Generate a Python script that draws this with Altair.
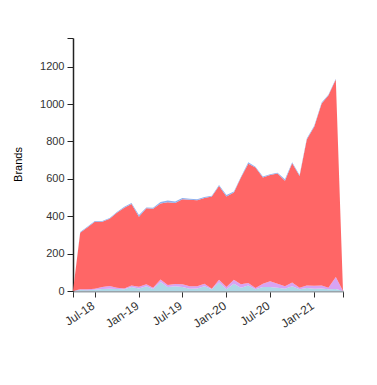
import altair as alt
import pandas as pd

months = [d.strftime("%Y-%m-%d") for d in pd.date_range("2018-04-01", periods=38, freq="MS")]

total_top = [0, 316, 345, 375, 375, 390, 423, 450, 470, 407, 447, 445, 476, 484, 478, 497,
             493, 490, 503, 510, 567, 513, 532, 610, 688, 665, 612, 625, 633, 597, 688, 620,
             815, 884, 1008, 1050, 1135, 0]
cyan_vals = [0, 5, 4, 7, 11, 12, 11, 9, 21, 14, 25, 11, 48, 21, 25, 21,
             12, 14, 25, 9, 46, 9, 39, 18, 30, 9, 21, 21, 18, 12, 25, 10,
             16, 12, 14, 10, 11, 0]
purple_vals = [0, 4, 5, 5, 10, 15, 7, 5, 9, 9, 11, 7, 14, 11, 12, 15,
               13, 12, 14, 3, 14, 12, 21, 18, 13, 7, 18, 31, 21, 13, 21, 8,
               14, 16, 16, 8, 64, 0]
blue_vals = [0, 4, 4, 4, 4, 4, 4, 5, 5, 10, 5, 5, 8, 10, 8, 6,
             5, 5, 5, 5, 6, 8, 5, 5, 8, 5, 5, 5, 5, 8, 5, 5,
             5, 5, 5, 5, 4, 0]
red_vals = [t - c - p - b for t, c, p, b in zip(total_top, cyan_vals, purple_vals, blue_vals)]

series_names = ["Series A", "Series B", "Series C", "Series D"]
series_colors = ["#add8e6", "#d8a3f3", "#ff6666", "#8fb0ee"]

rows = []
for name, vals, order in zip(series_names, [cyan_vals, purple_vals, red_vals, blue_vals], [0, 1, 2, 3]):
    for m, v in zip(months, vals):
        rows.append({"date": m, "series": name, "value": v, "ord": order})
df = pd.DataFrame(rows)

def ms(s):
    return int(pd.Timestamp(s, tz="UTC").value // 10**6)

x_start = ms("2018-04-01")
x_end = ms("2021-05-01")
x_tick_dates = ["2018-07-01", "2019-01-01", "2019-07-01", "2020-01-01", "2020-07-01", "2021-01-01"]
x_ticks = [x_start] + [ms(d) for d in x_tick_dates] + [x_end]
y_max = 1353
y_ticks = [0, 200, 400, 600, 800, 1000, 1200, y_max]

chart = alt.Chart(df).mark_area(interpolate="linear", opacity=1).encode(
    x=alt.X("date:T",
            scale=alt.Scale(type="utc", domain=[x_start, x_end], nice=False),
            axis=alt.Axis(values=x_ticks, format="%b-%y", title=None, grid=False,
                          labelAngle=326, labelAlign="right", labelBaseline="middle",
                          labelOverlap=False, labelBound=False, labelFlush=False,
                          labelExpr=f"(datum.value <= {x_start} || datum.value >= {x_end}) ? '' : datum.label",
                          labelFontSize=12, labelColor="#333", labelFont="Liberation Sans",
                          tickColor="#333", tickSize=6, domainColor="#9aa4aa", domainWidth=2,
                          labelPadding=7, labelOffset=-2)),
    y=alt.Y("value:Q", stack="zero",
            scale=alt.Scale(domain=[0, y_max], nice=False),
            axis=alt.Axis(values=y_ticks, grid=False, title="Brands", format="d",
                          labelOverlap=False,
                          labelExpr=f"datum.value >= {y_max} ? '' : datum.label",
                          labelFontSize=11, labelColor="#333", labelFont="Liberation Sans",
                          tickColor="#222", tickSize=6, domainColor="#222", domainWidth=1.5,
                          titleFont="Liberation Sans", titleFontSize=11, titleFontWeight="normal",
                          titleColor="#000", titleX=-55, titleY=126, titleAngle=270,
                          titleAlign="center", titleBaseline="middle", labelPadding=3)),
    color=alt.Color("series:N", scale=alt.Scale(domain=series_names, range=series_colors), legend=None),
    order=alt.Order("ord:Q", sort="ascending"),
).properties(
    width=270, height=253,
    autosize=alt.AutoSizeParams(type="none"),
    padding={"left": 73, "top": 38, "right": 34, "bottom": 94},
).configure_view(stroke=None)

chart.save("out.html", embed_options={"renderer": "svg", "actions": False})
